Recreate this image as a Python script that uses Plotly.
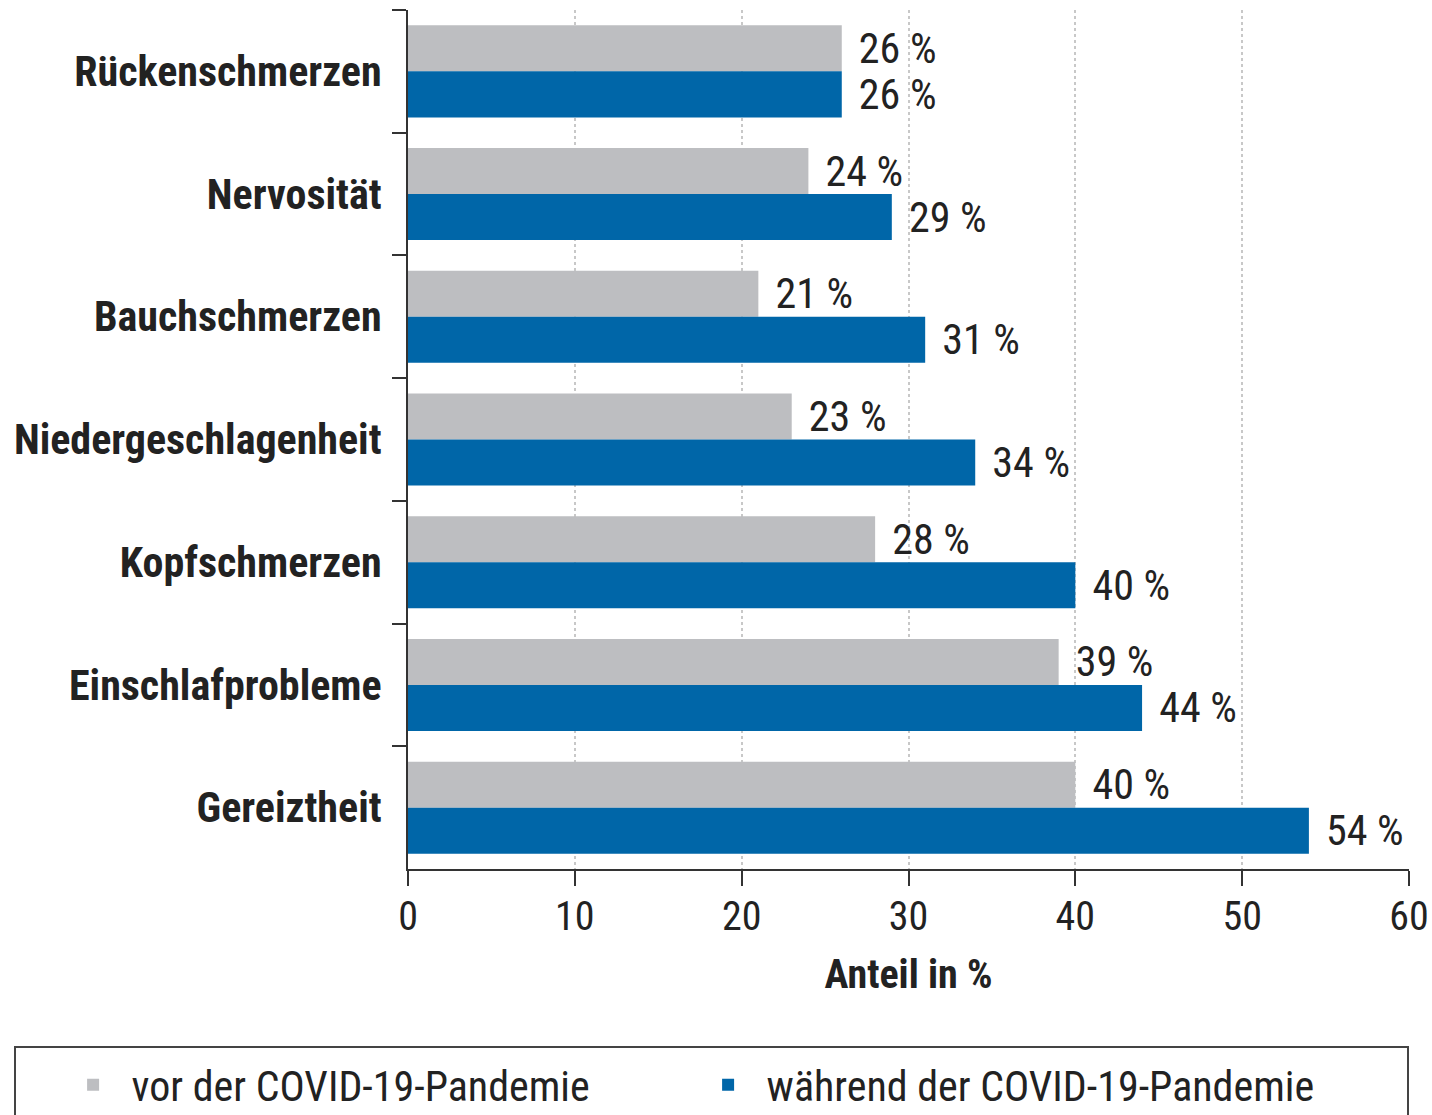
import plotly.graph_objects as go

categories = ["Rückenschmerzen", "Nervosität", "Bauchschmerzen", "Niedergeschlagenheit",
              "Kopfschmerzen", "Einschlafprobleme", "Gereiztheit"]
series_names = ["vor der COVID-19-Pandemie", "während der COVID-19-Pandemie"]
vor_values = [26, 24, 21, 23, 28, 39, 40]
waehrend_values = [26, 29, 31, 34, 40, 44, 54]
x_ticks = [0, 10, 20, 30, 40, 50, 60]

GRAY = "#BDBEC1"
BLUE = "#0066A8"
FONT = "Liberation Sans Narrow, Arial Narrow, Roboto Condensed, Liberation Sans, sans-serif"
TXT = "#222222"

fig = go.Figure()
for name, vals, col in [(series_names[0], vor_values, GRAY), (series_names[1], waehrend_values, BLUE)]:
    fig.add_trace(go.Bar(
        y=categories, x=vals, name=name, orientation="h",
        marker=dict(color=col, line=dict(width=0)),
        text=["\u00a0\u200a" + f"{v} %" for v in vals],
        textposition="outside", constraintext="none", cliponaxis=False,
        textfont=dict(family=FONT, size=42, color=TXT),
    ))

fig.update_layout(
    width=1432, height=1115,
    margin=dict(l=408, r=23, t=10, b=246, autoexpand=False),
    paper_bgcolor="white", plot_bgcolor="white",
    barmode="group", bargap=0.25, bargroupgap=0,
    font=dict(family=FONT, color=TXT),
    showlegend=True,
    legend=dict(orientation="h",
                x=(54.6 - 408) / 1001, xanchor="left", y=(869 - 1085) / 859, yanchor="middle",
                font=dict(family=FONT, size=42, color=TXT),
                itemwidth=67,
                entrywidth=553, entrywidthmode="pixels",
                traceorder="normal", bgcolor="rgba(0,0,0,0)"),
    xaxis=dict(range=[0, 60], tickvals=x_ticks, ticks="outside", ticklen=15, tickwidth=2,
               tickcolor="#333", showline=True, linecolor="#333", linewidth=2,
               showgrid=True, gridcolor="#C8C8C8", gridwidth=2, griddash="dot",
               zeroline=False, ticklabelstandoff=-4, automargin=False,
               tickfont=dict(family=FONT, size=40, color=TXT),
               title=dict(text="<b>Anteil in %</b>", font=dict(family=FONT, size=40, color=TXT),
                          standoff=21)),
    yaxis=dict(autorange="reversed", ticks="outside", tickson="boundaries", ticklen=14,
               tickwidth=2, tickcolor="#333", showline=True, linecolor="#333", linewidth=2,
               showgrid=False, ticklabelstandoff=16, automargin=False,
               tickfont=dict(family=FONT, size=42, color=TXT, weight="bold")),
)

# legend frame (extends past the bottom of the page as in the reference)
fig.add_shape(type="rect", xref="paper", yref="paper",
              x0=(15 - 408) / 1001, x1=(1408 - 408) / 1001,
              y0=(869 - 1140) / 859, y1=(869 - 1047) / 859,
              line=dict(color="#444", width=2), fillcolor="rgba(0,0,0,0)")

fig.write_html("out.html", config={"displayModeBar": False},
               post_script="document.body.style.margin='0';")
